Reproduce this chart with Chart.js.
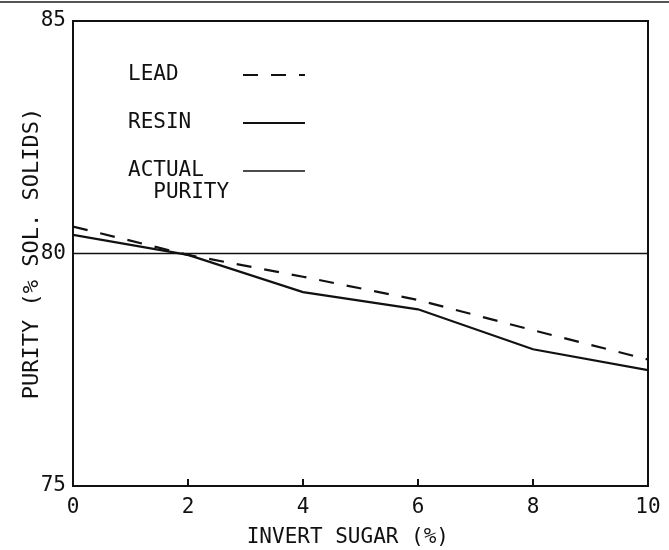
<!DOCTYPE html>
<html>
<head>
<meta charset="utf-8">
<script src="https://cdn.jsdelivr.net/npm/chart.js@4"></script>
<style>
  body { margin: 0; background: #fff; }
  #wrap { position: relative; width: 669px; height: 550px; }
  #edge { position: absolute; left: 0; top: 1px; width: 669px; height: 2px; background: #555; }
</style>
</head>
<body>
<div id="wrap">
  <canvas id="purity-graph" width="669" height="550"></canvas>
  <div id="edge"></div>
</div>
<script>

var sugar = [0, 2, 4, 6, 8, 10];
var lead = [80.58, 79.97, 79.50, 79.00, 78.35, 77.72];
var resin = [80.40, 79.97, 79.17, 78.80, 77.94, 77.49];
var actual = [80, 80, 80, 80, 80, 80];

var yTicks = [75, 80, 85];

var monoFont = '"DejaVu Sans Mono", "Liberation Mono", monospace';

function pts(ys) {
    return sugar.map(function(x, i) { return { x: x, y: ys[i] }; });
}

// box round the plot area, with short inward ticks on the x axis
var frame = {
    id: 'frame',
    afterDatasetsDraw: function(chart) {
        var a = chart.chartArea, ctx = chart.ctx;
        var xs = chart.scales.x;
        ctx.save();
        ctx.strokeStyle = '#111';
        ctx.lineWidth = 2;
        ctx.beginPath();
        ctx.moveTo(a.left, a.top);
        ctx.lineTo(a.right, a.top);
        ctx.lineTo(a.right, a.bottom);
        xs.ticks.forEach(function(t) {
            var px = xs.getPixelForValue(t.value);
            ctx.moveTo(px, a.bottom);
            ctx.lineTo(px, a.bottom - 7);
        });
        ctx.stroke();
        ctx.restore();
    }
};

// legend drawn inside the plot, like the original
var insideLegend = {
    id: 'insideLegend',
    afterDraw: function(chart) {
        var ctx = chart.ctx;
        var rows = [75, 123, 171];
        ctx.save();
        ctx.font = '21px ' + monoFont;
        ctx.fillStyle = '#111';
        ctx.textBaseline = 'middle';
        chart.data.datasets.forEach(function(ds, i) {
            var y = rows[i];
            var lines = [].concat(ds.label);
            lines.forEach(function(t, j) {
                ctx.fillText(t, 128, y + j * 22);
            });
            ctx.strokeStyle = ds.borderColor;
            ctx.lineWidth = ds.borderWidth;
            ctx.setLineDash(ds.borderDash || []);
            ctx.beginPath();
            ctx.moveTo(243, y);
            ctx.lineTo(305, y);
            ctx.stroke();
        });
        ctx.restore();
    }
};

var ctx = document.getElementById('purity-graph');

var data = {
    datasets: [{
        label: 'LEAD',
        data: pts(lead),
        borderColor: '#111',
        borderWidth: 2.2,
        borderDash: [15, 13],
        pointRadius: 0,
        fill: false,
        tension: 0
    },
    {
        label: 'RESIN',
        data: pts(resin),
        borderColor: '#111',
        borderWidth: 2.2,
        pointRadius: 0,
        fill: false,
        tension: 0
    },
    {
        label: ['ACTUAL', '  PURITY'],
        data: pts(actual),
        borderColor: '#111',
        borderWidth: 1.5,
        pointRadius: 0,
        fill: false,
        tension: 0
    }]
};

var myChart = new Chart(ctx, {
    type: 'line',
    data: data,
    plugins: [frame, insideLegend],
    options: {
        responsive: false,
        animation: false,
        layout: { padding: { top: 21, right: 21, left: 0, bottom: 0 } },
        plugins: {
            legend: { display: false },
            tooltip: { enabled: false }
        },
        scales: {
            x: {
                type: 'linear',
                min: 0,
                max: 10,
                afterFit: function(scale) {
                    scale.height = 64;
                    scale.paddingLeft = 0;
                    scale.paddingRight = 0;
                },
                border: { display: true, color: '#111', width: 2 },
                grid: { display: false },
                ticks: {
                    stepSize: 2,
                    padding: 1,
                    color: '#111',
                    font: { family: monoFont, size: 21 }
                },
                title: {
                    display: true,
                    text: 'INVERT SUGAR (%)  ',
                    color: '#111',
                    padding: { top: 0, bottom: 0 },
                    font: { family: monoFont, size: 21 }
                }
            },
            y: {
                type: 'linear',
                min: 75,
                max: 85,
                afterFit: function(scale) {
                    scale.width = 73;
                    scale.paddingTop = 0;
                    scale.paddingBottom = 0;
                },
                afterBuildTicks: function(scale) {
                    scale.ticks = yTicks.map(function(v) { return { value: v }; });
                },
                border: { display: true, color: '#111', width: 2 },
                grid: { drawOnChartArea: false, drawTicks: false },
                ticks: {
                    padding: 7,
                    color: '#111',
                    font: { family: monoFont, size: 21 }
                },
                title: {
                    display: true,
                    text: 'PURITY (% SOL. SOLIDS)',
                    color: '#111',
                    padding: { top: 19, bottom: 0 },
                    font: { family: monoFont, size: 22 }
                }
            }
        }
    }
});

</script>
</body>
</html>
